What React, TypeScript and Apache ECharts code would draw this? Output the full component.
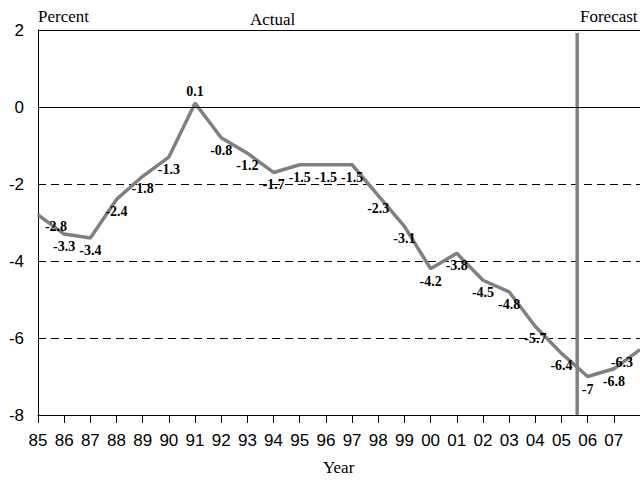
import React, { useEffect, useRef } from "react";
import * as echarts from "echarts";

const years = ["85","86","87","88","89","90","91","92","93","94","95","96","97","98","99","00","01","02","03","04","05","06","07","08"];
const values = [-2.8,-3.3,-3.4,-2.4,-1.8,-1.3,0.1,-0.8,-1.2,-1.7,-1.5,-1.5,-1.5,-2.3,-3.1,-4.2,-3.8,-4.5,-4.8,-5.7,-6.4,-7,-6.8,-6.3];
const yTicks = [-8, -6, -4, -2, 0, 2];
const forecastStart = 20.6; // position of actual/forecast divider (between 05 and 06)
const dividerTop = 1.92;

export default function App() {
  const ref = useRef<HTMLDivElement>(null);
  useEffect(() => {
    document.body.style.margin = "0";
    const chart = echarts.init(ref.current!, null, { renderer: "svg" });
    const lineColor = "#808080";
    const data = values.map((v, i) => {
      const item: any = { value: [i, v] };
      if (v > 0) item.label = { position: "top", distance: 4 };
      if (i === 0) item.label = { offset: [18, -1] };
      if (i === values.length - 1) item.label = { offset: [-18, 0] };
      return item;
    });
    chart.setOption({
      animation: false,
      grid: { left: 38, right: -3.3, top: 30, bottom: 67, containLabel: false },
      xAxis: {
        type: "value",
        min: 0,
        max: years.length - 1,
        interval: 1,
        axisLine: { onZero: false, lineStyle: { color: "#000", width: 1 } },
        axisTick: { show: true, length: 8, lineStyle: { color: "#000" } },
        axisLabel: {
          color: "#000",
          fontSize: 17,
          fontFamily: "Liberation Sans, Arial, sans-serif",
          margin: 17,
          showMaxLabel: false,
          formatter: (v: number) => (v < years.length - 1 ? years[Math.round(v)] : ""),
        },
        splitLine: { show: false },
      },
      yAxis: {
        type: "value",
        min: yTicks[0],
        max: yTicks[yTicks.length - 1],
        interval: 2,
        axisLine: { show: true, onZero: false, lineStyle: { color: "#000", width: 1 } },
        axisTick: { show: false },
        axisLabel: {
          color: "#000",
          fontSize: 17,
          fontFamily: "Liberation Sans, Arial, sans-serif",
          margin: 14,
        },
        splitLine: { show: true, lineStyle: { color: "#000", type: [8, 5], width: 1 } },
      },
      series: [
        {
          type: "line",
          data,
          symbol: "circle",
          symbolSize: 1,
          showSymbol: true,
          itemStyle: { color: lineColor },
          lineStyle: { color: lineColor, width: 3.5 },
          label: {
            show: true,
            position: "bottom",
            distance: 5,
            color: "#000",
            fontSize: 14,
            fontWeight: "bold",
            fontFamily: "Liberation Serif, Times New Roman, serif",
            formatter: (p: any) => String(p.value[1]),
          },
          markLine: {
            silent: true,
            symbol: "none",
            label: { show: false },
            lineStyle: { color: "#000", type: "solid", width: 1 },
            data: [{ yAxis: 0 }, { yAxis: 2 }],
          },
          z: 3,
        },
        {
          type: "line",
          data: [[forecastStart, dividerTop], [forecastStart, yTicks[0]]],
          symbol: "none",
          lineStyle: { color: lineColor, width: 3.5 },
          z: 4,
        },
      ],
      graphic: [
        { type: "text", left: 38, top: 8, style: { text: "Percent", fontSize: 17, fontFamily: "Liberation Serif, Times New Roman, serif", fill: "#000" } },
        { type: "text", left: 250, top: 11, style: { text: "Actual", fontSize: 17, fontFamily: "Liberation Serif, Times New Roman, serif", fill: "#000" } },
        { type: "text", left: 580, top: 8, style: { text: "Forecast", fontSize: 17, fontFamily: "Liberation Serif, Times New Roman, serif", fill: "#000" } },
        { type: "text", left: 323, top: 459, style: { text: "Year", fontSize: 17, fontFamily: "Liberation Serif, Times New Roman, serif", fill: "#000" } },
      ],
    });
    return () => chart.dispose();
  }, []);
  return <div ref={ref} style={{ width: 640, height: 482 }} />;
}
